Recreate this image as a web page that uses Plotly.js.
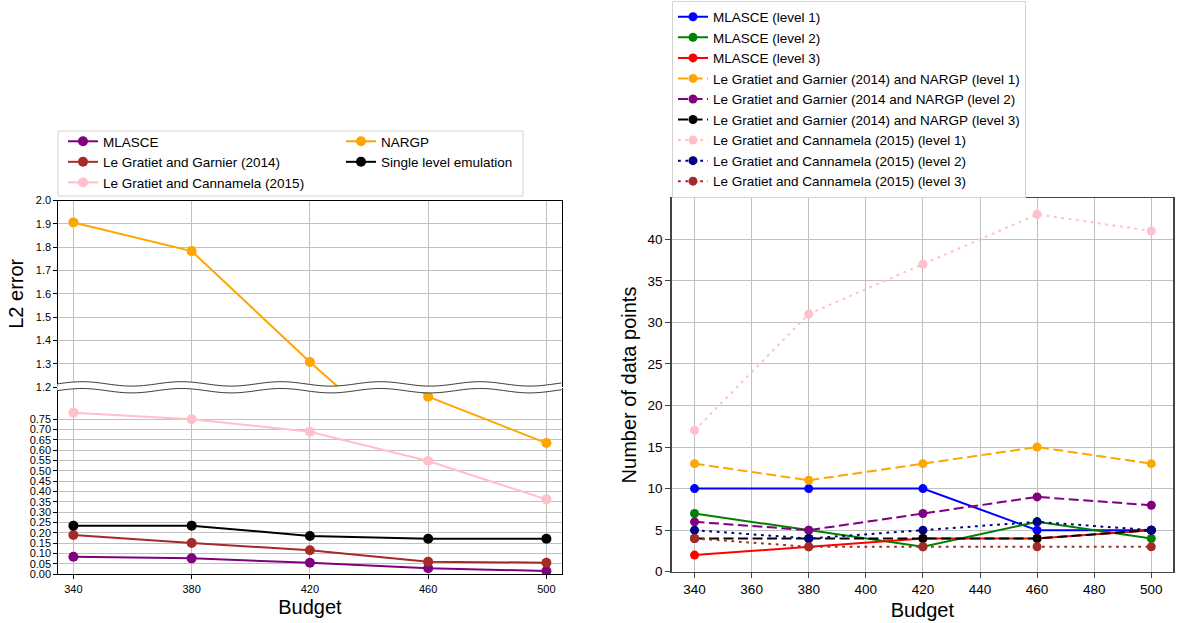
<!DOCTYPE html>
<html><head><meta charset="utf-8">
<script src="https://cdn.plot.ly/plotly-3.0.1.min.js"></script>
<style>html,body{margin:0;padding:0;background:#fff;}#chart{width:1177px;height:623px;}</style>
</head><body><div id="chart"></div>
<script>
// ---------- data ----------
const budget = [340, 380, 420, 460, 500];

// Left panel: L2 error
const errMLASCE    = [0.085, 0.077, 0.056, 0.029, 0.016];
const errGarnier   = [0.190, 0.151, 0.116, 0.061, 0.056];
const errCannamela = [0.781, 0.749, 0.689, 0.547, 0.362];
const errNARGP     = [1.906, 1.783, 1.307, 0.858, 0.634];
const errSingle    = [0.235, 0.235, 0.185, 0.172, 0.172];
const lowTicks  = [0, 0.05, 0.10, 0.15, 0.20, 0.25, 0.30, 0.35, 0.40, 0.45, 0.50, 0.55, 0.60, 0.65, 0.70, 0.75];
const highTicks = [1.2, 1.3, 1.4, 1.5, 1.6, 1.7, 1.8, 1.9, 2.0];

// Right panel: number of data points
const nMLASCE1    = [10, 10, 10, 5, 5];
const nMLASCE2    = [7, 5, 3, 6, 4];
const nMLASCE3    = [2, 3, 4, 4, 5];
const nGarnier1   = [13, 11, 13, 15, 13];
const nGarnier2   = [6, 5, 7, 9, 8];
const nGarnier3   = [4, 4, 4, 4, 5];
const nCannamela1 = [17, 31, 37, 43, 41];
const nCannamela2 = [5, 4, 5, 6, 5];
const nCannamela3 = [4, 3, 3, 3, 3];

// ---------- geometry helpers ----------
const W = 1177, H = 623;
const fx = p => p / W, fy = p => 1 - p / H;
const LP = {x0: 58.3, x1: 561.5, topY0: 200.5, topY1: 387, botY0: 388, botY1: 574.3};
const RP = {x0: 671.7, x1: 1173, y0: 198.3, y1: 571.7};

const FONT = 'Liberation Sans, Arial, Helvetica, sans-serif';
const DASH = '10px,4.5px', DOT = '2.8px,4.6px';

// ---------- traces ----------
const traces = [];
function leftSeries(name, y, color, legend) {
  // lower (0 - 0.9) part, with legend entry
  traces.push({x: budget, y: y, name: name, type: 'scatter', mode: 'lines+markers',
    xaxis: 'x', yaxis: 'y', legend: legend,
    line: {color: color, width: 2}, marker: {color: color, size: 10}});
  // upper (1.2 - 2.0) part of the broken axis
  traces.push({x: budget, y: y, name: name, type: 'scatter', mode: 'lines+markers',
    xaxis: 'x2', yaxis: 'y2', showlegend: false,
    line: {color: color, width: 2}, marker: {color: color, size: 10}});
}
leftSeries('MLASCE', errMLASCE, '#800080', 'legend');
leftSeries('Le Gratiet and Garnier (2014)', errGarnier, '#a52a2a', 'legend');
leftSeries('Le Gratiet and Cannamela (2015)', errCannamela, '#ffc0cb', 'legend');
leftSeries('NARGP', errNARGP, '#ffa500', 'legend2');
leftSeries('Single level emulation', errSingle, '#000000', 'legend2');

function rightSeries(name, y, color, dash) {
  traces.push({x: budget, y: y, name: name, type: 'scatter', mode: 'lines+markers',
    xaxis: 'x3', yaxis: 'y3', legend: 'legend3',
    line: {color: color, width: 2, dash: dash}, marker: {color: color, size: 9}});
}
rightSeries('MLASCE (level 1)', nMLASCE1, '#0000ff', 'solid');
rightSeries('MLASCE (level 2)', nMLASCE2, '#008000', 'solid');
rightSeries('MLASCE (level 3)', nMLASCE3, '#ff0000', 'solid');
rightSeries('Le Gratiet and Garnier (2014) and NARGP (level 1)', nGarnier1, '#ffa500', DASH);
rightSeries('Le Gratiet and Garnier (2014 and NARGP (level 2)', nGarnier2, '#800080', DASH);
rightSeries('Le Gratiet and Garnier (2014) and NARGP (level 3)', nGarnier3, '#000000', DASH);
rightSeries('Le Gratiet and Cannamela (2015) (level 1)', nCannamela1, '#ffc0cb', DOT);
rightSeries('Le Gratiet and Cannamela (2015) (level 2)', nCannamela2, '#000080', DOT);
rightSeries('Le Gratiet and Cannamela (2015) (level 3)', nCannamela3, '#a52a2a', DOT);

// ---------- broken-axis wave decoration ----------
function wavePts(yc, amp, period, crest) {
  const pts = [];
  for (let x = LP.x0 - 1; x <= LP.x1 + 1.01; x += 2) {
    const y = yc - amp * Math.cos(2 * Math.PI * (x - crest) / period);
    pts.push([fx(x), fy(y)]);
  }
  return pts;
}
const wc = 387.3, wAmp = 2.2, wPer = 99.5, wCrest = 82;
const upper = wavePts(wc - 3.4, wAmp, wPer, wCrest);
const lower = wavePts(wc + 3.4, wAmp, wPer, wCrest);
const toPath = pts => pts.map((p, i) => (i ? 'L' : 'M') + p[0].toFixed(5) + ',' + p[1].toFixed(5)).join(' ');
const fillPath = toPath(upper) + ' ' + lower.slice().reverse().map(p => 'L' + p[0].toFixed(5) + ',' + p[1].toFixed(5)).join(' ') + ' Z';

const shapes = [
  {type: 'path', xref: 'paper', yref: 'paper', path: fillPath, fillcolor: '#ffffff', line: {width: 0}, layer: 'above'},
  {type: 'path', xref: 'paper', yref: 'paper', path: toPath(upper), line: {color: '#333333', width: 1}, layer: 'above'},
  {type: 'path', xref: 'paper', yref: 'paper', path: toPath(lower), line: {color: '#333333', width: 1}, layer: 'above'},
  // left legend frame
  {type: 'rect', xref: 'paper', yref: 'paper', x0: fx(58), x1: fx(523), y0: fy(131), y1: fy(196),
   line: {color: '#d3d3d3', width: 1}, fillcolor: '#ffffff', layer: 'below'}
];

// ---------- axes ----------
const GRID = '#c0c0c0';
const leftTick = {size: 11, family: FONT, color: '#000'};
const rightTick = {size: 13.5, family: FONT, color: '#000'};
const titleFont = {size: 20, family: FONT, color: '#000'};
const legFont = {size: 13.5, family: FONT, color: '#000'};

const layout = {
  width: W, height: H,
  margin: {l: 0, r: 0, t: 0, b: 0, autoexpand: false},
  paper_bgcolor: '#fff', plot_bgcolor: '#fff',
  font: {family: FONT, color: '#000', size: 12},
  showlegend: true,
  hovermode: false,
  xaxis: {domain: [fx(LP.x0), fx(LP.x1)], anchor: 'y', range: [334.9, 505.1], tickvals: budget,
    ticks: 'outside', ticklen: 4, tickcolor: '#000', showline: true, linecolor: '#000', linewidth: 1,
    showgrid: true, gridcolor: GRID, gridwidth: 1, zeroline: false, tickfont: leftTick, automargin: false,
    title: {text: 'Budget', font: titleFont, standoff: 6}},
  yaxis: {domain: [fy(LP.botY1), fy(LP.botY0)], anchor: 'x', range: [0, 0.9], tickvals: lowTicks, tickformat: '.2f',
    ticks: 'outside', ticklen: 4, tickcolor: '#000', showline: true, mirror: true, linecolor: '#000', linewidth: 1,
    showgrid: true, gridcolor: GRID, gridwidth: 1, zeroline: false, tickfont: leftTick, automargin: false},
  xaxis2: {domain: [fx(LP.x0), fx(LP.x1)], anchor: 'y2', matches: 'x', range: [334.9, 505.1], tickvals: budget, side: 'top',
    ticks: '', showticklabels: false, showline: true, linecolor: '#000', linewidth: 1,
    showgrid: true, gridcolor: GRID, gridwidth: 1, zeroline: false, automargin: false},
  yaxis2: {domain: [fy(LP.topY1), fy(LP.topY0)], anchor: 'x2', range: [1.2, 2.0], tickvals: highTicks, tickformat: '.1f',
    ticks: 'outside', ticklen: 4, tickcolor: '#000', showline: true, mirror: true, linecolor: '#000', linewidth: 1,
    showgrid: true, gridcolor: GRID, gridwidth: 1, zeroline: false, tickfont: leftTick, automargin: false,
    title: {text: 'L2 error', font: titleFont, standoff: 6}},
  xaxis3: {domain: [fx(RP.x0), fx(RP.x1)], anchor: 'y3', range: [332, 507.6], tick0: 340, dtick: 20,
    ticks: 'outside', ticklen: 5, tickcolor: '#444', showline: true, mirror: true, linecolor: '#444', linewidth: 1.5,
    showgrid: true, gridcolor: GRID, gridwidth: 1, zeroline: false, tickfont: rightTick, automargin: false,
    title: {text: 'Budget', font: titleFont, standoff: 6}},
  yaxis3: {domain: [fy(RP.y1), fy(RP.y0)], anchor: 'x3', range: [0, 44.93], tick0: 0, dtick: 5,
    ticks: 'outside', ticklen: 5, tickcolor: '#444', showline: true, mirror: true, linecolor: '#444', linewidth: 1.5,
    showgrid: true, gridcolor: GRID, gridwidth: 1, zeroline: false, tickfont: rightTick, automargin: false,
    title: {text: 'Number of data points', font: titleFont, standoff: 5}},
  legend: {x: fx(63), y: fy(126), xanchor: 'left', yanchor: 'top', bgcolor: 'rgba(0,0,0,0)', borderwidth: 0,
    font: legFont, tracegroupgap: 0},
  legend2: {x: fx(341), y: fy(126), xanchor: 'left', yanchor: 'top', bgcolor: 'rgba(0,0,0,0)', borderwidth: 0,
    font: legFont, tracegroupgap: 0},
  legend3: {x: fx(672), y: fy(0.5), xanchor: 'left', yanchor: 'top', bgcolor: '#fff', bordercolor: '#d3d3d3', borderwidth: 1,
    font: legFont, tracegroupgap: 0},
  shapes: shapes
};

Plotly.newPlot('chart', traces, layout, {staticPlot: true, displayModeBar: false});
</script>
</body></html>
